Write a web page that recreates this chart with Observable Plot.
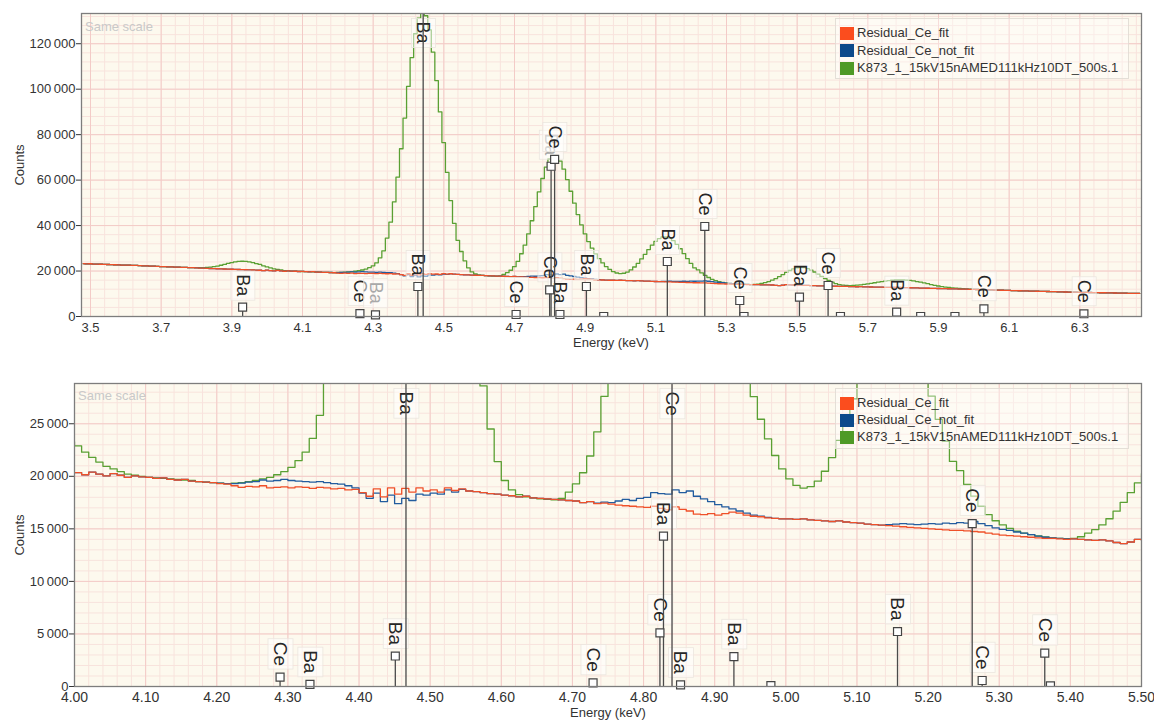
<!DOCTYPE html>
<html><head><meta charset="utf-8">
<script src="https://cdn.jsdelivr.net/npm/d3@7"></script>
<script src="https://cdn.jsdelivr.net/npm/@observablehq/plot@0.6"></script>
<style>
body{margin:0;background:#fff;font-family:"Liberation Sans",Arial,sans-serif;}
#wrap{position:relative;width:1154px;height:720px;overflow:hidden;}
.abs{position:absolute;white-space:nowrap;}
.lab{font-size:13px;color:#333;}
.same{font-size:13px;color:#c9c9c9;}
.lgbox{position:absolute;border:1px solid rgba(225,220,212,0.9);background:rgba(255,255,255,0.35);}
.sw{position:absolute;width:14px;height:13px;}
.lgt{position:absolute;font-size:13px;color:#333;line-height:16px;height:16px;white-space:nowrap;}
</style></head><body><div id="wrap"></div>
<script>
// ---------- channel grid (10 eV bins, centre energies) ----------
const E0 = 3.505, DE = 0.01;

// ---------- series values (counts per bin, 3.50 .. 6.50 keV) ----------
const residualCeFit = [
23250,23150,23200,23050,23020,22980,22900,22870,22800,22760,
22720,22640,22610,22570,22480,22460,22380,22310,22260,22180,
22120,22060,21980,21950,21870,21810,21760,21690,21620,21570,
21500,21460,21380,21310,21250,21210,21120,21060,21000,20950,
20900,20860,20780,20750,20680,20630,20560,20510,20450,20390,
20350,20150,20400,20200,20050,20250,20100,19900,20050,19950,
19900,19800,19850,19700,19650,19700,19550,19500,19450,19400,
19300,19250,19100,18950,19050,19000,19100,18900,18950,19000,
18900,19000,18950,18850,18950,18900,18800,18850,18700,18750,
18450,18100,18800,18050,18900,18300,18850,18500,18900,18600,
18700,18500,18900,18650,18800,18600,18550,18450,18350,18300,
18200,18150,18050,18100,17950,17900,17850,17800,17750,17700,
17650,17500,17600,17400,17450,17350,17250,17200,17150,17100,
17050,17150,16950,16800,17100,16850,16700,16400,16350,16450,
16300,16450,16600,16500,16300,16200,16150,16050,16000,15950,
15950,15900,15950,15850,15800,15750,15700,15750,15650,15600,
15550,15450,15400,15350,15300,15250,15200,15150,15100,15050,
15000,14950,14900,14850,14850,14800,14750,14700,14600,14500,
14400,14350,14300,14250,14200,14150,14100,14100,14050,14000,
14050,14000,13950,13900,13950,13850,13700,13600,13750,14000,
13900,13860,13790,13760,13700,13660,13590,13560,13490,13460,
13450,13400,13360,13310,13290,13240,13210,13150,13130,13090,
13100,13050,13030,12970,12960,12910,12890,12840,12830,12790,
12800,12750,12730,12670,12650,12590,12570,12510,12490,12430,
12400,12370,12310,12290,12230,12210,12150,12130,12070,12050,
12000,11960,11890,11870,11810,11780,11710,11690,11620,11600,
11550,11510,11450,11420,11360,11330,11270,11240,11180,11150,
11100,11070,11010,10990,10930,10910,10850,10830,10770,10750,
10700,10680,10630,10620,10570,10560,10510,10500,10450,10440,
10400,10380,10330,10320,10270,10260,10210,10200,10150,10140];

const residualCeNotFit = [
23250,23150,23200,23050,23020,22980,22900,22870,22800,22760,
22720,22640,22610,22570,22480,22460,22380,22310,22260,22180,
22120,22060,21980,21950,21870,21810,21760,21690,21620,21570,
21500,21460,21380,21310,21250,21210,21120,21060,21000,20950,
20900,20860,20780,20750,20680,20630,20560,20510,20450,20390,
20350,20150,20400,20200,20050,20250,20100,19900,20050,19950,
19900,19800,19850,19700,19650,19700,19550,19500,19450,19400,
19350,19300,19300,19350,19450,19500,19650,19550,19600,19700,
19600,19550,19500,19450,19500,19400,19300,19250,19100,18900,
18400,17900,18400,17600,18200,17400,17900,17700,18300,18200,
18400,18300,18700,18500,18750,18600,18550,18450,18350,18300,
18200,18150,18050,18100,17950,17900,17850,17800,17750,17700,
17650,17500,17600,17450,17550,17500,17650,17800,17700,17900,
18000,18450,18350,18300,18700,18450,18600,18100,17850,17600,
17300,17100,16900,16700,16500,16300,16200,16100,16000,15950,
15950,15900,15950,15850,15800,15750,15700,15750,15650,15600,
15550,15450,15400,15350,15400,15450,15500,15450,15400,15450,
15500,15450,15550,15500,15600,15550,15700,15500,15300,15100,
14950,14850,14700,14600,14450,14300,14200,14150,14100,14050,
14050,14000,13950,13900,13950,13850,13700,13600,13750,14000,
13900,13860,13790,13760,13700,13660,13590,13560,13490,13460,
13450,13400,13360,13310,13290,13240,13210,13150,13130,13090,
13100,13050,13030,12970,12960,12910,12890,12840,12830,12790,
12800,12750,12730,12670,12650,12590,12570,12510,12490,12430,
12400,12370,12310,12290,12230,12210,12150,12130,12070,12050,
12000,11960,11890,11870,11810,11780,11710,11690,11620,11600,
11550,11510,11450,11420,11360,11330,11270,11240,11180,11150,
11100,11070,11010,10990,10930,10910,10850,10830,10770,10750,
10700,10680,10630,10620,10570,10560,10510,10500,10450,10440,
10400,10380,10330,10320,10270,10260,10210,10200,10150,10140];

const spectrumK873 = [
23250,23150,23200,23050,23020,22980,22900,22870,22800,22760,
22720,22640,22610,22570,22480,22460,22380,22310,22260,22180,
22120,22060,21980,21950,21870,21810,21760,21690,21620,21570,
21530,21515,21475,21470,21510,21620,21730,21930,22200,22540,
22920,23330,23680,24010,24220,24310,24240,24050,23710,23290,
22900,22300,21800,21350,20950,20700,20450,20200,20100,20000,
19900,19850,19800,19750,19700,19650,19600,19500,19450,19400,
19350,19300,19350,19400,19500,19600,19750,19900,20150,20450,
20850,21500,22300,23600,25800,28900,34500,41500,50400,61300,
73800,87300,101200,113900,124400,131300,134100,132300,126100,116300,
103800,90000,76500,63400,51000,41000,33500,28600,24500,21400,
19600,18700,18250,18050,17950,17850,17800,17750,17900,18500,
19280,20340,21930,24230,27600,31400,36390,42130,48380,54800,
60720,65750,69290,70510,70300,68320,64830,60250,55110,49860,
44850,40310,36360,32980,30080,27580,25430,23560,21980,20700,
19750,19130,18880,19020,19550,20480,21780,23410,25310,27360,
29440,31380,33050,34300,35000,35070,34520,33380,31760,29800,
27630,25420,23340,21420,20540,19220,18110,17150,16360,15770,
15380,15040,14770,14600,14450,14320,14230,14150,14100,14060,
14100,14250,14600,14930,15370,15960,16680,17520,18440,19370,
20240,20950,21440,21640,21520,21100,20435,19580,18620,17650,
16700,15850,15100,14500,14050,13800,13650,13620,13680,13780,
13900,14100,14330,14580,14840,15100,15360,15600,15800,15960,
16080,16130,16110,16020,15860,15640,15380,15090,14780,14460,
14000,13700,13420,13170,12950,12760,12600,12460,12350,12250,
12150,12050,11960,11880,11830,11780,11710,11690,11620,11600,
11550,11510,11450,11420,11360,11330,11270,11240,11180,11150,
11100,11070,11010,10990,10930,10910,10850,10830,10770,10750,
10700,10680,10630,10620,10570,10560,10510,10500,10450,10440,
10400,10380,10330,10320,10270,10260,10210,10200,10150,10140];

const seriesNames = ["Residual_Ce_fit", "Residual_Ce_not_fit", "K873_1_15kV15nAMED111kHz10DT_500s.1"];
const lineColors = ["#ef5029", "#225c9e", "#5aa033"];
const swatchColors = ["#fb4d1e", "#0c4a8b", "#4e9a27"];

// ---------- line markers (KLM) ----------
const topMarkE      = [3.956,4.288,4.332,4.452,4.467,4.730,4.825,4.829,4.839,4.854,4.929,4.978,5.158,5.264,5.363,5.375,5.532,5.613,5.648,5.807,5.875,5.972,6.054,6.337];
const topMarkCounts = [4100,1300,750,13200,134000,880,11750,66100,69100,880,13200,0,24200,39600,7040,0,8500,13640,0,1900,0,0,3400,1200];
const topMarkLabel  = ["Ba","Ce","Ba","Ba","Ba","Ce","Ce","Ba","Ce","Ba","Ba","","Ba","Ce","Ce","","Ba","Ce","","Ba","","","Ce","Ce"];
const topMarkFaded  = [0,0,1,0,0,0,0,1,0,0,0,0,0,0,0,0,0,0,0,0,0,0,0,0];

const botMarkE      = [4.289,4.331,4.451,4.466,4.729,4.823,4.828,4.840,4.852,4.927,4.979,5.157,5.262,5.276,5.364,5.372];
const botMarkCounts = [900,200,2900,134000,350,5100,14300,69000,150,2850,80,5230,15500,570,3180,60];
const botMarkLabel  = ["Ce","Ba","Ba","Ba","Ce","Ce","Ba","Ce","Ba","Ba","","Ba","Ce","Ce","Ce",""];
const botMarkFaded  = [0,0,0,0,0,0,0,0,0,0,0,0,0,0,0,0];

// ---------- axes ----------
const topXTicks = [3.5,3.7,3.9,4.1,4.3,4.5,4.7,4.9,5.1,5.3,5.5,5.7,5.9,6.1,6.3];
const topYTicks = [0,20000,40000,60000,80000,100000,120000];
const botXTicks = [4.0,4.1,4.2,4.3,4.4,4.5,4.6,4.7,4.8,4.9,5.0,5.1,5.2,5.3,5.4,5.5];
const botYTicks = [0,5000,10000,15000,20000,25000];

const energies = residualCeFit.map((_, i) => +(E0 + i * DE).toFixed(3));
const ySep = d => d3.format(",")(d).replace(/,/g, "\u2009");

function panel(cfg) {
  const {xDomain, yMax, xMajor, xMinor, yMajor, yMinor, xFmt, gdx, xFont, labFont,
         mE, mC, mL, mF, height, mt, mb, ml} = cfg;
  const pxY = yMax / (height - mt - mb);
  const ser = arr => arr.map((v, i) => ({E: energies[i], c: v}))
    .filter(d => d.E >= xDomain[0] - 0.02 && d.E <= xDomain[1] + 0.02);
  const marks = mE.map((e, i) => ({E: e, c: mC[i], l: mL[i], col: mF[i] ? "#a9a9a9" : "#262626"}));
  const full = marks.filter(d => d.c >= yMax && d.l);
  const part = marks.filter(d => d.c < yMax && d.l);
  const tiny = marks.filter(d => !d.l);
  const lineOpt = i => ({x: "E", y: "c", curve: "step", stroke: lineColors[i], strokeWidth: 1.3, clip: true});
  return Plot.plot({
    width: 1154, height, marginTop: mt, marginBottom: mb, marginLeft: ml, marginRight: 13,
    style: {fontFamily: '"Liberation Sans", Arial, sans-serif', fontSize: "13px", color: "#333", background: "transparent", overflow: "visible"},
    x: {domain: xDomain},
    y: {domain: [0, yMax]},
    color: {type: "identity"},
    marks: [
      Plot.frame({fill: "#fdf9ee", stroke: null}),
      Plot.gridX(xMinor, {stroke: "#f8e3dd", strokeOpacity: 1, dx: gdx}),
      Plot.gridY(yMinor, {stroke: "#f8e3dd", strokeOpacity: 1}),
      Plot.gridX(xMajor, {stroke: "#f3cbc7", strokeOpacity: 1, dx: gdx}),
      Plot.gridY(yMajor, {stroke: "#f3cbc7", strokeOpacity: 1}),
      Plot.line(ser(spectrumK873), lineOpt(2)),
      Plot.line(ser(residualCeNotFit), lineOpt(1)),
      Plot.line(ser(residualCeFit), lineOpt(0)),
      Plot.text(part, {x: "E", y: d => d.c + 11 * pxY, text: "l", rotate: 90, textAnchor: "end", fontSize: labFont, fill: "col"}),
      Plot.text(full, {x: "E", y: () => yMax - 8 * pxY, text: "l", rotate: 90, textAnchor: "start", fontSize: labFont, fill: "col"}),
      Plot.ruleX(marks, {x: "E", y1: 0, y2: d => Math.min(d.c, yMax), stroke: "#4a4a4a", strokeWidth: 1.3}),
      Plot.dot(part, {x: "E", y: "c", symbol: "square", r: 4.5, fill: "white", stroke: "#444", strokeWidth: 1.2}),
      Plot.dot(tiny, {x: "E", y: "c", symbol: "square", r: 4.5, fill: "white", stroke: "#444", strokeWidth: 1.2, clip: true}),
      Plot.axisY(yMajor, {tickSize: 5, tickPadding: 1, tickFormat: ySep, label: null, fontSize: 13}),
      Plot.axisX(xMajor, {tickSize: 0, tickPadding: 6, tickFormat: xFmt, label: null, dx: gdx, fontSize: xFont}),
      Plot.frame({stroke: "#7d7d7d", strokeWidth: 1.3})
    ]
  });
}

function addBoxes(svg) {
  svg.querySelectorAll('g[aria-label="text"]').forEach(g => {
    g.querySelectorAll("text").forEach(t => {
      const b = t.getBBox();
      const r = document.createElementNS("http://www.w3.org/2000/svg", "rect");
      r.setAttribute("x", b.x - 3); r.setAttribute("y", b.y - 2);
      r.setAttribute("width", b.width + 6); r.setAttribute("height", b.height + 4);
      if (t.getAttribute("transform")) r.setAttribute("transform", t.getAttribute("transform"));
      r.setAttribute("fill", "#ffffff"); r.setAttribute("fill-opacity", "0.5");
      r.setAttribute("stroke", "#ebe6df"); r.setAttribute("stroke-width", "0.8");
      g.insertBefore(r, t);
    });
  });
}

const wrap = document.getElementById("wrap");

const topSvg = panel({
  xDomain: [3.5, 6.5], yMax: 133300,
  xMajor: topXTicks, xMinor: d3.range(0, 75).map(i => +(3.5 + i * 0.04).toFixed(2)),
  yMajor: topYTicks, yMinor: d3.range(0, 34).map(i => i * 4000),
  xFmt: d => d.toFixed(1), gdx: 9, xFont: 13, labFont: 18,
  mE: topMarkE, mC: topMarkCounts, mL: topMarkLabel, mF: topMarkFaded,
  height: 352, mt: 13, mb: 36, ml: 81
});
const botSvg = panel({
  xDomain: [4.0, 5.5], yMax: 28830,
  xMajor: botXTicks, xMinor: d3.range(0, 76).map(i => +(4.0 + i * 0.02).toFixed(2)),
  yMajor: botYTicks, yMinor: d3.range(0, 29).map(i => i * 1000),
  xFmt: d => d.toFixed(2), gdx: 0, xFont: 14, labFont: 19,
  mE: botMarkE, mC: botMarkCounts, mL: botMarkLabel, mF: botMarkFaded,
  height: 368, mt: 31, mb: 34, ml: 74
});

function place(el, top) {
  const d = document.createElement("div");
  d.className = "abs"; d.style.left = "0px"; d.style.top = top + "px";
  d.appendChild(el); wrap.appendChild(d);
}
place(topSvg, 0);
place(botSvg, 352);
addBoxes(topSvg);
addBoxes(botSvg);

function addText(txt, cls, left, top, extra) {
  const d = document.createElement("div");
  d.className = "abs " + cls; d.textContent = txt;
  d.style.left = left + "px"; d.style.top = top + "px";
  if (extra) Object.assign(d.style, extra);
  wrap.appendChild(d);
}
// titles / axis labels
addText("Same scale", "same", 85, 19);
addText("Same scale", "same", 78, 388);
addText("Counts", "lab", 19, 164.5, {transform: "translate(-50%,-50%) rotate(-90deg)"});
addText("Counts", "lab", 19, 534.5, {transform: "translate(-50%,-50%) rotate(-90deg)"});
addText("Energy (keV)", "lab", 611, 342, {transform: "translate(-50%,-50%)"});
addText("Energy (keV)", "lab", 608, 712, {transform: "translate(-50%,-50%)"});

// legends
function legend(top, rows) {
  const box = document.createElement("div");
  box.className = "lgbox";
  Object.assign(box.style, {left: "835px", top: top + "px", width: "292px", height: "59px"});
  wrap.appendChild(box);
  seriesNames.forEach((name, i) => {
    const cy = rows[i];
    const sw = document.createElement("div");
    sw.className = "sw";
    Object.assign(sw.style, {left: "840px", top: (cy - 6.5) + "px", background: swatchColors[i]});
    wrap.appendChild(sw);
    const t = document.createElement("div");
    t.className = "lgt"; t.textContent = name;
    Object.assign(t.style, {left: "857px", top: (cy - 8) + "px"});
    wrap.appendChild(t);
  });
}
legend(18, [33, 50.5, 68]);
legend(388, [403, 420, 437]);
</script></body></html>
